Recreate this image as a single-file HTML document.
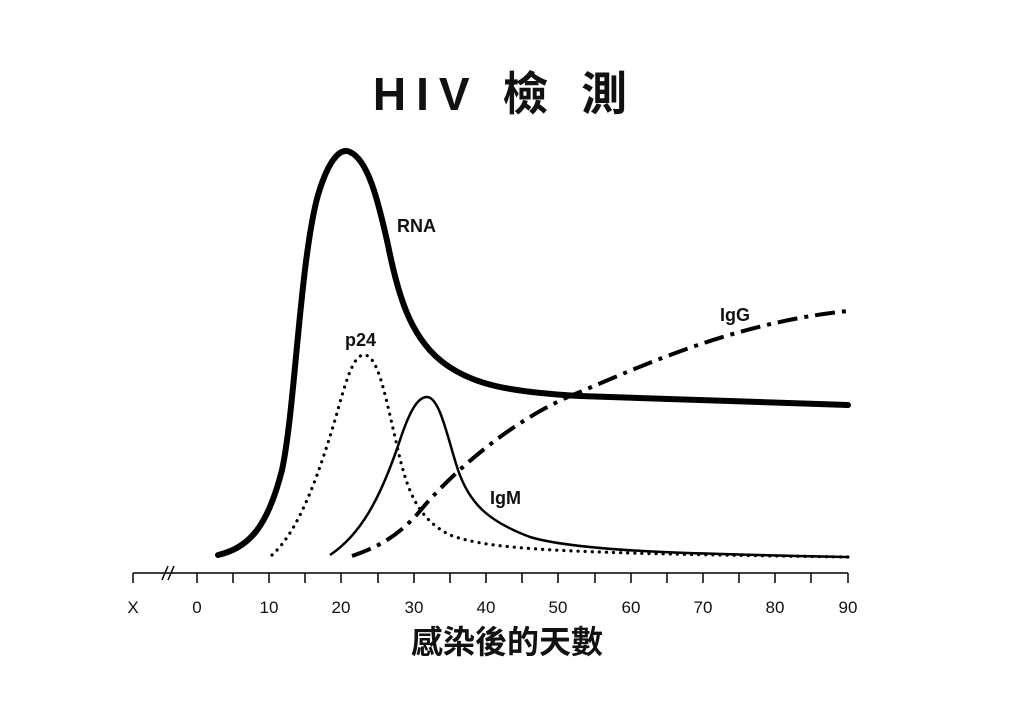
<!DOCTYPE html>
<html><head><meta charset="utf-8"><style>
html,body{margin:0;padding:0;background:#fff;}
svg{display:block;}
</style></head><body>
<svg width="1024" height="725" viewBox="0 0 1024 725" xmlns="http://www.w3.org/2000/svg">
<rect width="1024" height="725" fill="#fff"/>
<text x="505" y="110" text-anchor="middle" font-family="Liberation Sans, Noto Sans CJK TC, sans-serif" font-size="46" font-weight="bold" letter-spacing="10" fill="#111">HIV 檢 測</text>
<!-- RNA -->
<path d="M218,555 C250,548 268,525 282,470 C295,410 300,260 318,195 C330,155 342,148 350,152 C368,160 378,200 388,245 C398,295 410,335 440,360 C470,385 510,392 580,396 C680,400 780,402 848,405" fill="none" stroke="#000" stroke-width="6" stroke-linecap="round"/>
<!-- p24 dotted -->
<path d="M272,555 C300,530 320,470 335,420 C345,385 352,357 363,355 C378,353 385,395 398,450 C408,495 420,520 450,535 C490,550 560,553 848,557" fill="none" stroke="#000" stroke-width="3.2" stroke-dasharray="0.1 7" stroke-linecap="round"/>
<!-- IgM -->
<path d="M330,555 C360,535 380,500 400,440 C410,410 418,397 427,397 C440,397 448,440 458,470 C470,505 490,522 530,537 C580,552 700,554 848,557" fill="none" stroke="#000" stroke-width="2.5"/>
<!-- IgG -->
<path d="M352,556 C385,545 405,530 425,505 C460,465 520,415 580,392 C650,362 740,322 848,311" fill="none" stroke="#000" stroke-width="4" stroke-dasharray="20 7 4 7"/>
<g font-family="Liberation Sans, sans-serif" font-weight="bold" font-size="18" fill="#111">
<text x="397" y="232">RNA</text>
<text x="345" y="346">p24</text>
<text x="490" y="504">IgM</text>
<text x="720" y="321">IgG</text>
</g>
<!-- axis -->
<line x1="133" y1="573" x2="848" y2="573" stroke="#000" stroke-width="1.5"/>
<line x1="133" y1="573" x2="133" y2="583" stroke="#000" stroke-width="1.5"/>
<line x1="162" y1="580" x2="168" y2="566" stroke="#000" stroke-width="1.5"/>
<line x1="168" y1="580" x2="174" y2="566" stroke="#000" stroke-width="1.5"/>
<g stroke="#000" stroke-width="1.5">
<line x1="197" y1="573" x2="197" y2="583"/><line x1="233" y1="573" x2="233" y2="583"/>
<line x1="269" y1="573" x2="269" y2="583"/><line x1="305" y1="573" x2="305" y2="583"/>
<line x1="341" y1="573" x2="341" y2="583"/><line x1="378" y1="573" x2="378" y2="583"/>
<line x1="414" y1="573" x2="414" y2="583"/><line x1="450" y1="573" x2="450" y2="583"/>
<line x1="486" y1="573" x2="486" y2="583"/><line x1="522" y1="573" x2="522" y2="583"/>
<line x1="558" y1="573" x2="558" y2="583"/><line x1="595" y1="573" x2="595" y2="583"/>
<line x1="631" y1="573" x2="631" y2="583"/><line x1="667" y1="573" x2="667" y2="583"/>
<line x1="703" y1="573" x2="703" y2="583"/><line x1="739" y1="573" x2="739" y2="583"/>
<line x1="775" y1="573" x2="775" y2="583"/><line x1="811" y1="573" x2="811" y2="583"/>
<line x1="848" y1="573" x2="848" y2="583"/>
</g>
<g font-family="Liberation Sans, sans-serif" font-size="17" fill="#111" text-anchor="middle">
<text x="133" y="613">X</text>
<text x="197" y="613">0</text><text x="269" y="613">10</text><text x="341" y="613">20</text>
<text x="414" y="613">30</text><text x="486" y="613">40</text><text x="558" y="613">50</text>
<text x="631" y="613">60</text><text x="703" y="613">70</text><text x="775" y="613">80</text>
<text x="848" y="613">90</text>
</g>
<text x="507" y="653" text-anchor="middle" font-family="Liberation Sans, Noto Sans CJK TC, sans-serif" font-size="32" font-weight="bold" fill="#111">感染後的天數</text>
</svg>
</body></html>
